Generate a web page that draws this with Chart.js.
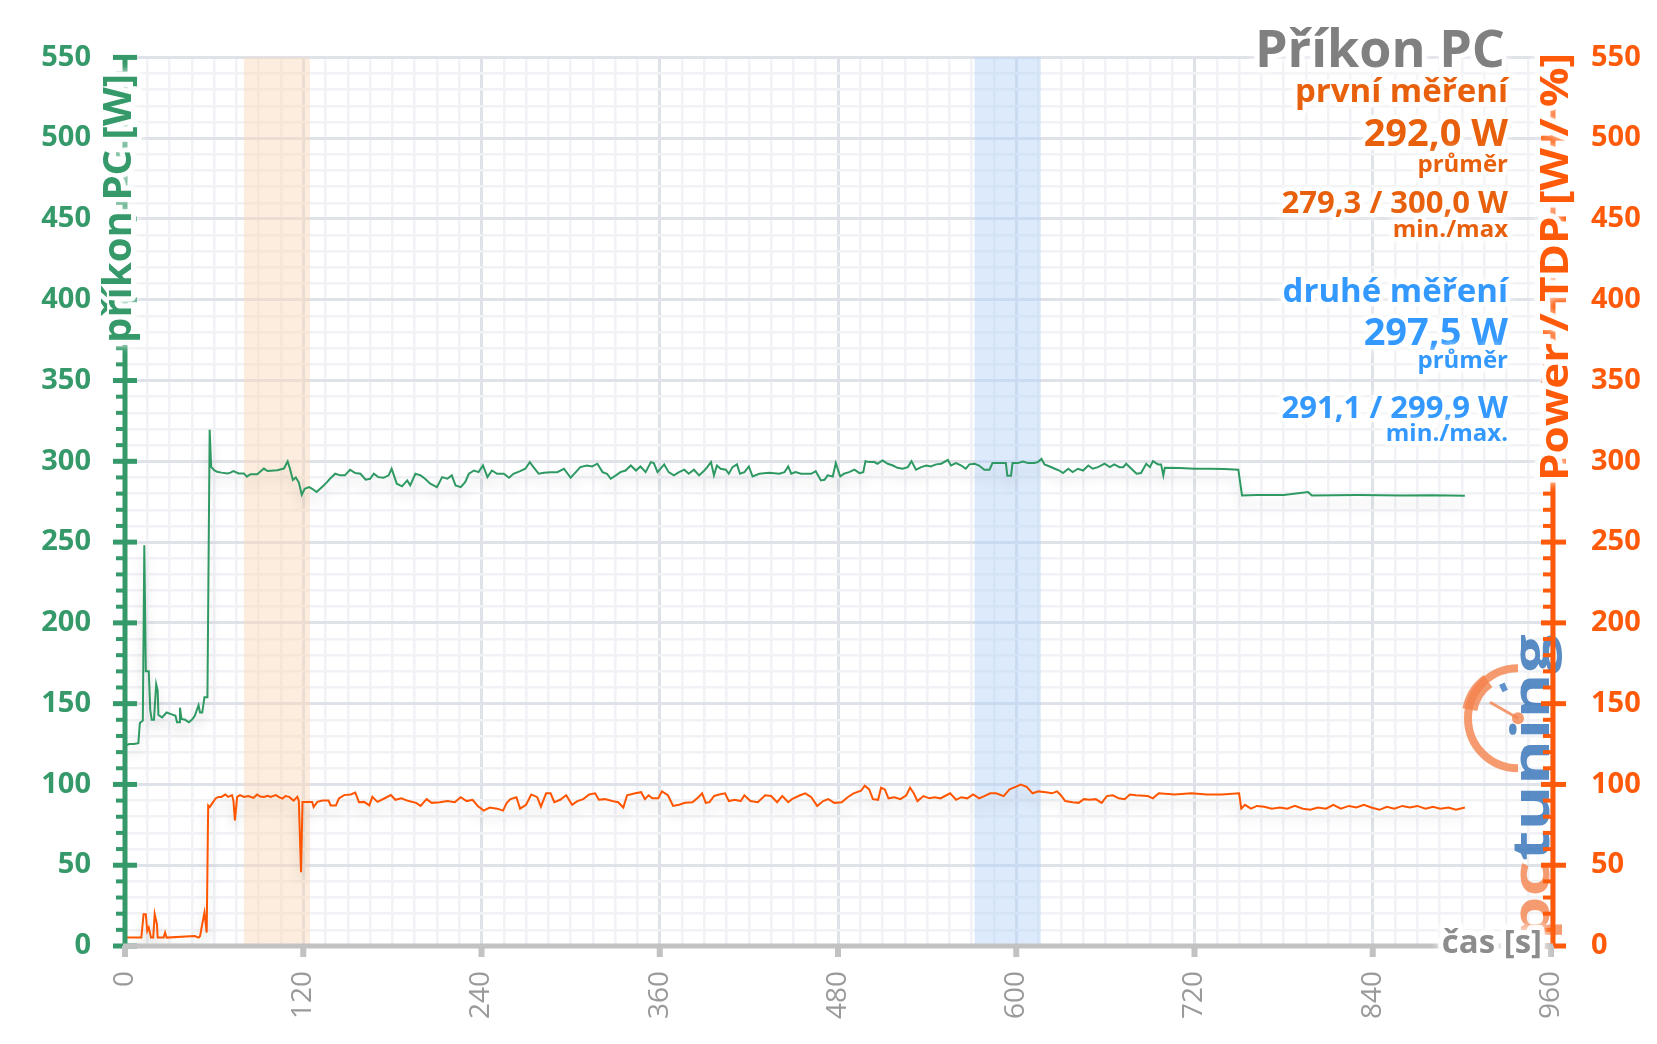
<!DOCTYPE html>
<html>
<head>
<meta charset="utf-8">
<script src="https://cdn.jsdelivr.net/npm/chart.js@4.4.0/dist/chart.umd.min.js"></script>
<style>
html, body { margin: 0; padding: 0; background: #fff; }
#wrap { width: 1657px; height: 1044px; }
</style>
</head>
<body>
<div id="wrap"><canvas id="chart" width="1657" height="1044"></canvas></div>
<script>
// time [s] and PC power draw [W]
const pcTime = [
	0, 3, 6, 9, 10, 12, 13, 14, 16, 17,
	18, 19.5, 21, 22, 22.5, 25, 28, 31, 34, 35,
	36.5, 37, 38, 40.5, 43, 45, 47, 49.5, 50.5, 52,
	53.5, 55.5, 57, 58, 60, 62, 65, 69, 71, 73,
	76.5, 80, 82, 84.5, 89, 93.5, 96, 102.5, 107, 109.5,
	111, 113, 115, 117, 119, 121, 124, 126, 129, 132.5,
	136, 138, 141.5, 145, 148, 151.5, 155, 158.5, 162, 165,
	167.5, 170.5, 174, 177.5, 179.5, 183, 186.5, 190, 192, 195.5,
	199, 202, 205.5, 210, 213.5, 217, 220, 222.5, 226, 229,
	231.5, 235, 238, 241, 244, 247, 250.5, 255, 258.5, 261.5,
	266, 269.5, 272.5, 275, 278.5, 282, 286.5, 291, 295.5, 300,
	303.5, 306.5, 311, 314.5, 318, 321.5, 324.5, 327, 330.5, 333.5,
	337, 340.5, 344, 347, 350.5, 354, 356, 358.5, 363, 366,
	369.5, 373, 376.5, 379.5, 383, 386.5, 390, 392, 394.5, 396.5,
	398.5, 401, 404.5, 406.5, 409, 412, 414, 417, 420, 422.5,
	427, 433.5, 440.5, 444, 446.5, 448.5, 451.5, 455, 462, 465,
	468.5, 471, 473, 476.5, 478.5, 481.5, 484, 487.5, 491, 494.5,
	497, 498.5, 501, 504.5, 506.5, 510, 513.5, 517, 520, 523.5,
	527, 529.5, 532.5, 536, 539.5, 542.5, 546, 549.5, 554, 556,
	559.5, 563, 566, 568.5, 572, 575, 578.5, 582, 584, 593,
	594, 596.5, 597.5, 601, 604.5, 608, 612, 614.5, 617, 619,
	622.5, 626, 629, 631.5, 635, 638, 641.5, 645, 648.5, 651.5,
	655, 659.5, 663, 666, 669.5, 672, 674, 677.5, 681, 684,
	687.5, 690, 692, 695.5, 697.5, 699, 700, 710, 720, 730,
	740, 749.5, 752, 762, 780, 796.5, 799, 830, 860, 880,
	902
];
const pcWatts = [
	124, 125, 125, 125.5, 138, 139.5, 248, 170, 170, 146,
	140, 140, 162, 158, 143, 141.5, 144.5, 143.5, 142.5, 138.5,
	138.5, 147.5, 140.5, 140, 138.5, 140, 142.5, 149, 144.5, 144.5,
	154, 154, 319.5, 296.5, 294.5, 293.5, 293, 292.5, 293, 294,
	292.5, 292.5, 290.5, 292, 292, 295.5, 294, 294.5, 295.5, 300,
	295.5, 288.5, 290, 287, 279.3, 283, 284, 283, 281, 284,
	287.1, 289.2, 292.3, 291.3, 291.3, 294.8, 292.7, 292.3, 288.6, 289.2,
	292.3, 290.2, 289.8, 291.3, 295.4, 286.1, 284.5, 288.2, 285.1, 292.3,
	291.3, 289.2, 286.1, 284, 290.2, 289.2, 291.3, 285.1, 284, 287.1,
	292.3, 294.3, 293.3, 297.4, 290.2, 294.3, 292.3, 292.3, 289.8, 292.3,
	293.9, 295.4, 299.5, 296.4, 292.3, 292.9, 293.3, 293.3, 295.4, 289.8,
	293.3, 296.4, 297.4, 296.8, 298.5, 293.3, 292.3, 289.2, 291.3, 293.3,
	294.3, 297.4, 294.3, 296.8, 293.3, 299.5, 298.9, 293.3, 298.1, 293.3,
	291.3, 293.3, 294.8, 292.3, 294.8, 291.3, 294.3, 296.4, 299.5, 291.3,
	297.4, 295.4, 294.8, 292.3, 296.4, 298.1, 292.3, 293.3, 296.8, 290.6,
	292.3, 292.9, 292.3, 293.3, 296.8, 292.3, 293.3, 292.3, 292.3, 293.9,
	288.2, 288.6, 291.3, 290.6, 298.9, 290.6, 292.3, 293.3, 294.8, 292.7,
	293.3, 300.1, 299.5, 299.5, 298.5, 300.5, 298.5, 297.4, 296, 295.4,
	296.4, 300.1, 294.8, 296.4, 297.4, 296.8, 298.1, 298.5, 300.9, 297.4,
	298.9, 297.4, 295.4, 298.1, 298.5, 297.4, 294.8, 294.8, 298.9, 298.9,
	291.1, 291.1, 298.9, 298.9, 299.9, 298.9, 298.9, 299.5, 301.5, 298.1,
	296.8, 295.4, 294.3, 292.7, 295.4, 293.3, 295.4, 294.3, 297.4, 295.4,
	296.4, 298.5, 296.4, 298.1, 296.4, 296.4, 298.5, 295.4, 292.3, 292.7,
	298.5, 296.4, 300.1, 298.1, 298.1, 291.3, 296, 295.8, 295.4, 295.4,
	295.2, 294.8, 278.9, 279.2, 279.2, 281, 278.9, 279.1, 278.8, 279,
	278.7
];

// time [s] and CPU power / TDP [W / %]
const cpuTime = [
	0, 11, 12.5, 14, 15, 16, 17.5, 19, 20, 21.5,
	22, 26, 27, 28, 47, 49.5, 50.5, 52, 53.5, 55,
	56, 57, 58.5, 61, 63, 65, 67.5, 69.5, 72, 73,
	74, 75.5, 77.5, 80, 83, 86.5, 89, 91, 93.5, 96,
	98, 101.5, 104, 106, 108, 110.5, 113.5, 116, 117, 118.5,
	119.5, 122.5, 126, 127, 129.5, 133, 137, 138.5, 142, 144,
	147.5, 152, 155, 157.5, 161, 164.5, 166.5, 170, 174.5, 179,
	182, 186, 191, 196, 199, 203, 206.5, 212, 217, 222,
	226, 230, 234, 237.5, 241.5, 245.5, 250.5, 254.5, 257, 259.5,
	263.5, 266, 270, 273.5, 277.5, 280, 283.5, 286.5, 289, 293,
	297, 301, 304.5, 308.5, 312.5, 316.5, 319, 323, 328, 332,
	335.5, 338, 343.5, 347.5, 350, 352.5, 355, 359, 361.5, 365.5,
	369, 373, 377, 382, 386, 388.5, 391, 393.5, 396.5, 400,
	404, 406.5, 410.5, 414.5, 417, 421, 426, 431, 435, 439,
	442.5, 446.5, 449, 454.5, 458, 462, 466, 470, 473.5, 477.5,
	482.5, 486.5, 490.5, 495.5, 498, 501, 503.5, 507, 509, 511.5,
	514, 518, 522, 526, 528.5, 531, 533.5, 537.5, 541.5, 545,
	549, 553, 555.5, 559.5, 563, 567, 571, 575, 578.5, 582.5,
	586.5, 591.5, 595.5, 599.5, 603, 607, 611, 615, 620, 624,
	627.5, 630, 633, 638, 642, 645.5, 649.5, 653.5, 657.5, 661,
	665, 669, 673, 676.5, 680.5, 688.5, 692, 696, 706.5, 718,
	728, 738.5, 750, 751.5, 754, 758, 762, 767, 772, 777.5,
	782.5, 787.5, 793, 798, 803, 808.5, 813.5, 818.5, 824, 829,
	834, 839, 844.5, 849.5, 854.5, 860, 865, 870, 875.5, 880.5,
	885.5, 891, 896, 902
];
const cpuWatts = [
	5.2, 5.2, 19.7, 19.7, 9.3, 11.4, 5.2, 5.2, 19.7, 13.5,
	5.2, 5.2, 8.3, 5.2, 6.2, 5.2, 6, 13.5, 20.7, 8.3,
	87, 86, 88, 91.3, 92.3, 92.3, 93.8, 92.3, 93.4, 90,
	77.8, 92.3, 93.4, 92.3, 92.8, 91.7, 93.8, 92.5, 92.3, 93,
	92.3, 93.4, 92, 91.3, 92.8, 92.3, 90, 92.3, 90, 45.6,
	89.2, 89.2, 89.2, 86, 89.2, 90, 90, 87, 87, 91.3,
	93.4, 93.8, 95, 89, 89.2, 87, 92.3, 89.2, 91.3, 93.4,
	90.5, 91.4, 89.7, 88.6, 86.7, 90.9, 88.6, 89, 89.7, 89,
	92.1, 89.7, 90.5, 86.7, 83.8, 85.7, 85, 83.8, 88.6, 90.9,
	92.1, 85, 87.4, 93.8, 92.1, 86.2, 94.5, 94.5, 89, 90.5,
	93.3, 87.4, 89.7, 90.9, 93.8, 94.5, 90.5, 90.9, 89.7, 89,
	85.7, 93.3, 94.5, 95.2, 90.9, 93.3, 91.4, 91.4, 95.7, 93.3,
	86.7, 87.4, 88.6, 89, 92.1, 94.5, 88.6, 89, 92.8, 93.8,
	94.5, 89.7, 90.5, 89.7, 93.3, 89.7, 89, 93.3, 92.8, 89,
	92.8, 89, 90.9, 93.3, 94.5, 92.1, 86.7, 89.7, 90.9, 88.6,
	89, 92.1, 94.5, 96.1, 99.2, 96.9, 90.9, 90.5, 98, 96.9,
	91.4, 92.1, 90.9, 93.3, 98, 94.5, 89.7, 92.8, 91.4, 92.1,
	91.4, 93.3, 94.5, 90.5, 92.1, 91.4, 93.8, 91.4, 92.8, 94.5,
	94.5, 92.8, 96.9, 98.5, 99.9, 98.5, 94.5, 95.7, 95.2, 94.5,
	95.7, 93.3, 89.7, 89, 88.6, 90.9, 90.5, 90.9, 88.6, 92.8,
	93.3, 91.4, 90.9, 93.8, 93.3, 92.8, 91.4, 94.5, 93.8, 94.5,
	93.8, 93.8, 94.5, 85, 87.4, 85, 86.7, 86.2, 85, 85.7,
	85, 86.7, 85, 84.3, 85.7, 85, 87.4, 85, 86.7, 85.7,
	87.4, 85.7, 84.3, 86.2, 85, 86.7, 85.7, 86.7, 85, 86.2,
	85, 85.7, 84.3, 85.7
];

const xLabels = [0, 120, 240, 360, 480, 600, 720, 840, 960];
const yLabels = [0, 50, 100, 150, 200, 250, 300, 350, 400, 450, 500, 550];
const firstBand = [80, 124.5];
const secondBand = [572, 616.5];

const green = '#35996a';
const orange = '#ff5a0a';
const textOrange = '#e8600c';
const textBlue = '#3399ff';

// right hand info block: text, size, weight, colour, baseline
const infoLines = [
	['první měření', 33, 'bold', textOrange, 102],
	['292,0 W', 38, 'bold', textOrange, 146],
	['průměr', 24, 'bold', textOrange, 172],
	['279,3 / 300,0 W', 31, 'bold', textOrange, 213],
	['min./max', 24, 'bold', textOrange, 237],
	['druhé měření', 33, 'bold', textBlue, 302],
	['297,5 W', 38, 'bold', textBlue, 345],
	['průměr', 24, 'bold', textBlue, 368],
	['291,1 / 299,9 W', 31, 'bold', textBlue, 418],
	['min./max.', 24, 'bold', textBlue, 441]
];

const FONT = '"Open Sans", "Noto Sans", sans-serif';

function haloText(ctx, txt, x, y, halo) {
	ctx.save();
	ctx.lineJoin = 'round';
	ctx.strokeStyle = 'rgba(255,255,255,0.92)';
	ctx.shadowColor = '#fff';
	ctx.shadowBlur = 8;
	ctx.lineWidth = halo;
	ctx.strokeText(txt, x, y);
	ctx.restore();
	ctx.fillText(txt, x, y);
}

// rotated title reading bottom to top, stretched to the given length
function sideTitle(ctx, txt, x, yTop, yBottom, size, color) {
	ctx.save();
	ctx.translate(x, yBottom);
	ctx.rotate(-Math.PI / 2);
	ctx.font = 'bold ' + size + 'px ' + FONT;
	let w = ctx.measureText(txt).width;
	ctx.scale((yBottom - yTop) / w, 1);
	ctx.textAlign = 'left';
	ctx.textBaseline = 'alphabetic';
	ctx.fillStyle = color;
	haloText(ctx, txt, 0, 0, 10);
	ctx.restore();
}

function drawLogo(ctx, cx, cy) {
	ctx.save();
	ctx.globalAlpha = 0.8;
	ctx.strokeStyle = '#f4824c';
	ctx.lineWidth = 8;
	ctx.beginPath();
	ctx.arc(cx, cy, 50, Math.PI * 0.5, Math.PI * 1.5);
	ctx.stroke();
	ctx.lineWidth = 15;
	ctx.beginPath();
	ctx.arc(cx - 3, cy, 46, Math.PI * 1.06, Math.PI * 1.3);
	ctx.stroke();
	ctx.strokeStyle = '#3b78c0';
	ctx.lineWidth = 6;
	ctx.beginPath();
	ctx.moveTo(cx + 38 * Math.cos(Math.PI * 1.36), cy + 38 * Math.sin(Math.PI * 1.36));
	ctx.lineTo(cx + 30 * Math.cos(Math.PI * 1.36), cy + 30 * Math.sin(Math.PI * 1.36));
	ctx.stroke();
	ctx.strokeStyle = '#f4824c';
	ctx.lineWidth = 3;
	ctx.beginPath();
	ctx.moveTo(cx, cy);
	ctx.lineTo(cx - 28, cy - 16);
	ctx.stroke();
	ctx.fillStyle = '#f4824c';
	ctx.beginPath();
	ctx.arc(cx, cy, 6, 0, Math.PI * 2);
	ctx.fill();

	ctx.translate(cx + 31, cy + 222);
	ctx.rotate(-Math.PI / 2);
	ctx.font = 'bold 52px ' + FONT;
	let wPc = ctx.measureText('pc').width;
	let wTu = ctx.measureText('tuning').width;
	ctx.scale(306 / (wPc + wTu), 1);
	ctx.textBaseline = 'alphabetic';
	ctx.fillStyle = '#f4824c';
	ctx.fillText('pc', 0, 0);
	ctx.fillStyle = '#2f6fb6';
	ctx.fillText('tuning', wPc, 0);
	ctx.restore();
}

const decor = {
	id: 'decor',
	beforeDatasetsDraw(chart) {
		const { ctx, chartArea: a, scales: { x } } = chart;
		ctx.save();
		ctx.fillStyle = 'rgba(250,214,182,0.45)';
		ctx.fillRect(x.getPixelForValue(firstBand[0]), a.top, x.getPixelForValue(firstBand[1]) - x.getPixelForValue(firstBand[0]), a.bottom - a.top);
		ctx.fillStyle = 'rgba(177,208,248,0.45)';
		ctx.fillRect(x.getPixelForValue(secondBand[0]), a.top, x.getPixelForValue(secondBand[1]) - x.getPixelForValue(secondBand[0]), a.bottom - a.top);
		ctx.restore();
	},
	beforeDatasetDraw(chart) {
		const ctx = chart.ctx;
		ctx.save();
		ctx.shadowColor = 'rgba(0,0,0,0.17)';
		ctx.shadowBlur = 12;
		ctx.shadowOffsetY = 9;
	},
	afterDatasetDraw(chart) {
		chart.ctx.restore();
	},
	afterDatasetsDraw(chart) {
		const { ctx, chartArea: a, scales: { x, y, y2 } } = chart;

		drawLogo(ctx, a.right - 33, y2.getPixelForValue(141));

		// left axis
		ctx.save();
		ctx.strokeStyle = green;
		ctx.lineWidth = 5;
		ctx.beginPath();
		ctx.moveTo(a.left, y.getPixelForValue(550) - 2);
		ctx.lineTo(a.left, a.bottom);
		ctx.stroke();
		for (let v = 0; v <= 550; v += 10) {
			let py = y.getPixelForValue(v);
			let major = yLabels.includes(v);
			ctx.lineWidth = major ? 5 : 4;
			ctx.beginPath();
			ctx.moveTo(a.left - (major ? 12 : 9), py);
			ctx.lineTo(a.left + (major ? 12 : 2), py);
			ctx.stroke();
		}
		// right axis
		ctx.strokeStyle = orange;
		ctx.lineWidth = 5;
		ctx.beginPath();
		ctx.moveTo(a.right + 2, y2.getPixelForValue(550) - 2);
		ctx.lineTo(a.right + 2, a.bottom);
		ctx.stroke();
		for (let v = 0; v <= 550; v += 10) {
			let py = y2.getPixelForValue(v);
			let major = yLabels.includes(v);
			ctx.lineWidth = major ? 5 : 4;
			ctx.beginPath();
			ctx.moveTo(a.right + 2 - (major ? 12 : 10), py);
			ctx.lineTo(a.right + 2 + (major ? 13 : 0), py);
			ctx.stroke();
		}
		// time axis
		ctx.strokeStyle = '#c2c2c2';
		ctx.lineWidth = 5;
		ctx.beginPath();
		ctx.moveTo(a.left - 2, a.bottom);
		ctx.lineTo(a.right + 2, a.bottom);
		ctx.stroke();
		ctx.fillStyle = '#c2c2c2';
		xLabels.forEach(function(v) {
			ctx.fillRect(x.getPixelForValue(v) - 3, a.bottom, 6, 11);
		});
		ctx.restore();

		// axis titles
		sideTitle(ctx, 'příkon PC [W]', a.left + 6, 74, 343, 40, green);
		sideTitle(ctx, 'Power / TDP [W / %]', a.right + 17, 53, 481, 40, orange);

		ctx.save();
		ctx.font = 'bold 33px ' + FONT;
		ctx.textAlign = 'right';
		ctx.textBaseline = 'middle';
		ctx.fillStyle = '#8c8c8c';
		haloText(ctx, 'čas [s]', a.right - 9, a.bottom - 2, 10);

		ctx.textBaseline = 'alphabetic';
		ctx.font = 'bold 52px ' + FONT;
		ctx.fillStyle = '#808080';
		haloText(ctx, 'Příkon PC', a.right - 46, 67, 10);
		infoLines.forEach(function(l) {
			ctx.font = l[2] + ' ' + l[1] + 'px ' + FONT;
			ctx.fillStyle = l[3];
			haloText(ctx, l[0], a.right - 43, l[4], 8);
		});
		ctx.restore();
	}
};

function gridColor(c, labels) {
	return c.tick && labels.includes(c.tick.value) ? '#dfe2e9' : '#f1f2f5';
}

new Chart(document.getElementById('chart'), {
	type: 'line',
	data: {
		datasets: [{
			label: 'příkon PC',
			data: pcTime.map((t, i) => ({ x: t, y: pcWatts[i] })),
			borderColor: '#2e9962',
			borderWidth: 2,
			pointRadius: 0,
			yAxisID: 'y'
		}, {
			label: 'Power / TDP',
			data: cpuTime.map((t, i) => ({ x: t, y: cpuWatts[i] })),
			borderColor: '#ff5500',
			borderWidth: 2,
			pointRadius: 0,
			yAxisID: 'y2'
		}]
	},
	options: {
		responsive: false,
		animation: false,
		devicePixelRatio: 1,
		layout: { padding: { top: 57 } },
		plugins: { legend: { display: false }, tooltip: { enabled: false } },
		scales: {
			x: {
				type: 'linear',
				min: 0,
				max: 960,
				afterFit: s => { s.height = 98; },
				border: { display: false },
				grid: {
					drawTicks: false,
					color: c => gridColor(c, xLabels),
					lineWidth: c => c.tick && xLabels.includes(c.tick.value) ? 3 : 2.5
				},
				ticks: {
					stepSize: 15,
					autoSkip: false,
					minRotation: 90,
					maxRotation: 90,
					padding: 25,
					color: '#9a9a9a',
					font: { family: FONT, size: 28 },
					callback: v => xLabels.includes(v) ? String(v) : ''
				}
			},
			y: {
				position: 'left',
				min: 0,
				max: 550,
				afterFit: s => { s.width = 125; },
				border: { display: false },
				grid: {
					drawTicks: false,
					color: c => gridColor(c, yLabels),
					lineWidth: c => c.tick && yLabels.includes(c.tick.value) ? 3 : 2.5
				},
				ticks: {
					stepSize: 10,
					autoSkip: false,
					padding: 34,
					color: green,
					font: { family: FONT, size: 29, weight: 'bold' },
					callback: v => yLabels.includes(v) ? String(v) : ''
				}
			},
			y2: {
				position: 'right',
				min: 0,
				max: 550,
				afterFit: s => { s.width = 106; },
				border: { display: false },
				grid: { drawOnChartArea: false, drawTicks: false },
				ticks: {
					stepSize: 10,
					autoSkip: false,
					padding: 40,
					color: orange,
					font: { family: FONT, size: 29, weight: 'bold' },
					callback: v => yLabels.includes(v) ? String(v) : ''
				}
			}
		}
	},
	plugins: [decor]
});
</script>
</body>
</html>
